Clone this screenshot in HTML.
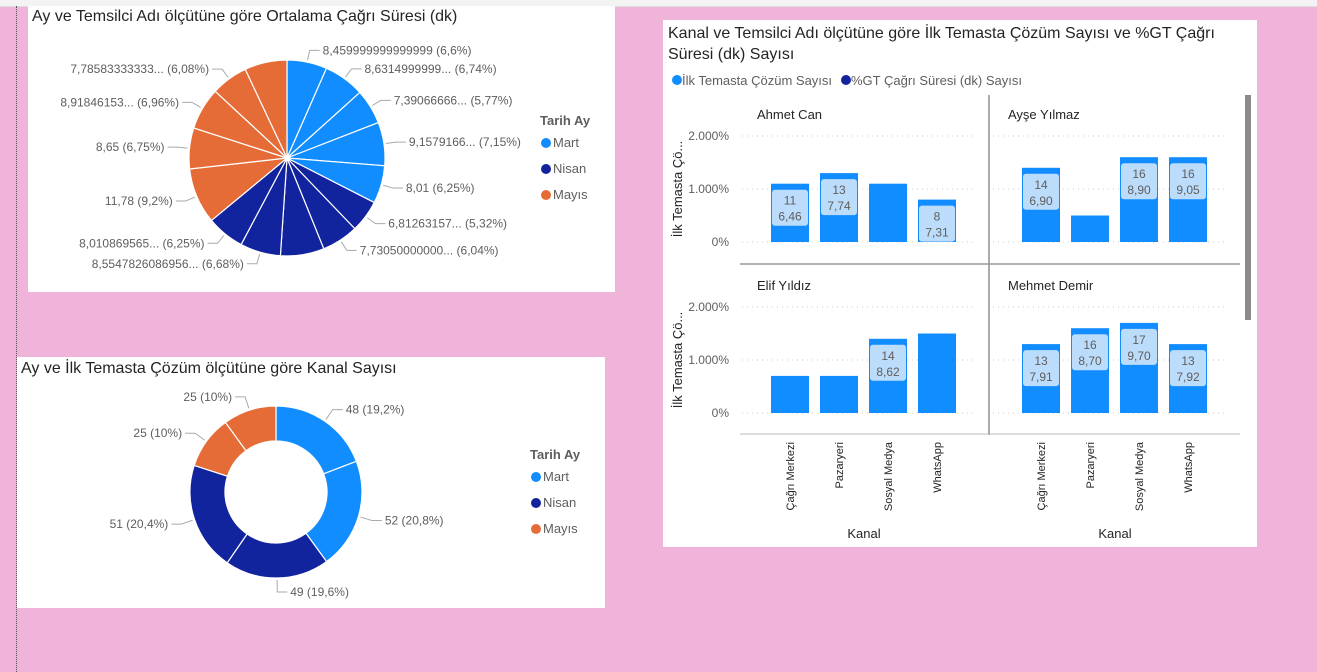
<!DOCTYPE html>
<html><head><meta charset="utf-8">
<style>
body{margin:0;width:1317px;height:672px;background:#f0b3da;position:relative;overflow:hidden;font-family:"Liberation Sans",sans-serif;}
.card{position:absolute;background:#fff;}
.t{position:absolute;white-space:nowrap;}
svg text{font-family:"Liberation Sans",sans-serif;}
</style></head><body>
<div style="position:absolute;left:0;top:0;width:1317px;height:6px;background:#f3f3f3;border-bottom:1px solid #ddd"></div>
<div style="position:absolute;left:16px;top:6px;height:666px;border-left:1px dotted #555"></div>

<div class="card" style="left:28px;top:6px;width:587px;height:286px">
  <div class="t" style="left:4px;top:2px;font-size:16px;color:#252423">Ay ve Temsilci Adı ölçütüne göre Ortalama Çağrı Süresi (dk)</div>
</div>
<div class="card" style="left:17px;top:357px;width:588px;height:251px">
  <div class="t" style="left:4px;top:3px;font-size:16px;color:#252423">Ay ve İlk Temasta Çözüm ölçütüne göre Kanal Sayısı</div>
</div>
<div class="card" style="left:663px;top:20px;width:594px;height:527px">
  <div class="t" style="left:5px;top:3px;font-size:16px;line-height:21px;color:#252423">Kanal ve Temsilci Adı ölçütüne göre İlk Temasta Çözüm Sayısı ve %GT Çağrı<br>Süresi (dk) Sayısı</div>
</div>

<svg id="s" width="1317" height="672" style="position:absolute;left:0;top:0"></svg>

<script>
// ---------- Pie 1 data ----------
const pieVals=[6.6,6.74,5.77,7.15,6.25,5.32,6.04,7.2,6.68,6.25,9.2,6.75,6.96,6.08,7.0];
const pieMonth=[0,0,0,0,0,1,1,1,1,1,2,2,2,2,2];
const pieLabels=["8,459999999999999 (6,6%)","8,6314999999... (6,74%)","7,39066666... (5,77%)","9,1579166... (7,15%)","8,01 (6,25%)","6,81263157... (5,32%)","7,73050000000... (6,04%)","","8,5547826086956... (6,68%)","8,010869565... (6,25%)","11,78 (9,2%)","8,65 (6,75%)","8,91846153... (6,96%)","7,78583333333... (6,08%)",""];
// ---------- Donut data ----------
const donutVals=[48,52,49,51,25,25];
const donutMonth=[0,0,1,1,2,2];
const donutLabels=["48 (19,2%)","52 (20,8%)","49 (19,6%)","51 (20,4%)","25 (10%)","25 (10%)"];
const months=["Mart","Nisan","Mayıs"];
// ---------- Bar data ----------
const channels=["Çağrı Merkezi","Pazaryeri","Sosyal Medya","WhatsApp"];
const reps=["Ahmet Can","Ayşe Yılmaz","Elif Yıldız","Mehmet Demir"];
const barVals=[[1100,1300,1100,800],[1400,500,1600,1600],[700,700,1400,1500],[1300,1600,1700,1300]];
const countLbl=[["11","13","","8"],["14","","16","16"],["","","14",""],["13","16","17","13"]];
const gtLbl=[["6,46","7,74","","7,31"],["6,90","","8,90","9,05"],["","","8,62",""],["7,91","8,70","9,70","7,92"]];
const yTicks=[0,1000,2000];
const yTickLbl=["0%","1.000%","2.000%"];

const colors=["#118dff","#12239e","#e66c37"];
const svg=document.getElementById('s');
const NS="http://www.w3.org/2000/svg";
function mk(tag,attrs,parent){const e=document.createElementNS(NS,tag);for(const k in attrs)e.setAttribute(k,attrs[k]);(parent||svg).appendChild(e);return e;}
function txt(x,y,s,attrs){const e=mk('text',Object.assign({x:x,y:y,'font-size':12,fill:'#605e5c'},attrs||{}));e.textContent=s;return e;}

function legend(x,y,name){
  const t=txt(x,y,"Tarih Ay",{'font-size':13,'font-weight':'bold',fill:'#605e5c'});
  
  
  months.forEach((m,i)=>{
    const c=mk('circle',{cx:x+6,cy:y+22+i*26-4,r:5,fill:colors[i]});
    
    
    const l=txt(x+13,y+22+i*26,m,{'font-size':13});
    
    
  });
}

function ring(cx,cy,r,ri,vals,cols,labels,name,lblR){
  const tot=vals.reduce((a,b)=>a+b,0);let a0=0;
  vals.forEach((v,i)=>{
    const a1=a0+v/tot*2*Math.PI;
    const p=(a,rr)=>[cx+rr*Math.sin(a),cy-rr*Math.cos(a)];
    const [x0,y0]=p(a0,r),[x1,y1]=p(a1,r);const lg=(a1-a0)>Math.PI?1:0;
    let d;
    if(ri>0){const [x2,y2]=p(a1,ri),[x3,y3]=p(a0,ri);
      d=`M${x0},${y0}A${r},${r} 0 ${lg} 1 ${x1},${y1}L${x2},${y2}A${ri},${ri} 0 ${lg} 0 ${x3},${y3}Z`;}
    else d=`M${cx},${cy}L${x0},${y0}A${r},${r} 0 ${lg} 1 ${x1},${y1}Z`;
    const s=mk('path',{d:d,fill:colors[cols[i]],stroke:'#fff','stroke-width':1.2});
    
    
    if(labels[i]){
      const am=(a0+a1)/2;const [lx0,ly0]=p(am,r+2),[lx1,ly1]=p(am,r+lblR);
      const right=Math.sin(am)>=0;const lx2=lx1+(right?10:-10);
      mk('polyline',{points:`${lx0},${ly0} ${lx1},${ly1} ${lx2},${ly1}`,fill:'none',stroke:'#aaa','stroke-width':1});
      const t=txt(lx2+(right?3:-3),ly1+4,labels[i],{'text-anchor':right?'start':'end'});
      
      
    }
    a0=a1;
  });
}
ring(287,158,98,0,pieVals,pieMonth,pieLabels,'pie',12);
legend(540,125,'pie');
ring(276,492,86,51,donutVals,donutMonth,donutLabels,'donut',14);
legend(530,459,'donut');

// ---------- Bar chart ----------
// legend
[[672,"İlk Temasta Çözüm Sayısı",0],[841,"%GT Çağrı Süresi (dk) Sayısı",1]].forEach((e,i)=>{
  const c=mk('circle',{cx:e[0]+5,cy:80,r:5,fill:colors[e[2]]});
  
  
  const t=txt(e[0]+10,85,e[1],{'font-size':13});
  
  
});
const panelX=[771,1022],panelBase=[242,413],pxPer=106/2000,step=49,bw=38;
const yS=(v,row)=>panelBase[row]-v*pxPer;
reps.forEach((rep,ri)=>{
  const col=ri%2,row=Math.floor(ri/2);
  const t=txt(panelX[col]-14,panelBase[row]-123,rep,{'font-size':13,fill:'#252423'});
  
  
  yTicks.forEach((v,k)=>{
    mk('line',{x1:panelX[col]-29,x2:panelX[col]+205,y1:yS(v,row),y2:yS(v,row),stroke:'#ccc','stroke-dasharray':'1,4'});
    if(col==0){const tl=txt(729,yS(v,row)+4,yTickLbl[k],{'text-anchor':'end'});
      
      }
  });
  if(col==0){const yt=txt(0,0,"İlk Temasta Çö...",{'font-size':13,transform:`translate(682,${yS(1000,row)}) rotate(-90)`,'text-anchor':'middle',fill:'#252423'});
    
    }
  barVals[ri].forEach((v,ci)=>{
    const x=panelX[col]+ci*step,y=yS(v,row);
    const b=mk('rect',{x:x,y:y,width:bw,height:panelBase[row]-y,fill:colors[0]});
    
    
    if(countLbl[ri][ci]){
      const bt=Math.min(y+6,panelBase[row]-34);
      const bx=mk('rect',{x:x+1,y:bt,width:bw-2,height:36,rx:3,fill:'#bcdcfb'});
      
      
      const c1=txt(x+bw/2,bt+15,countLbl[ri][ci],{'text-anchor':'middle'});
      
      
      const c2=txt(x+bw/2,bt+31,gtLbl[ri][ci],{'text-anchor':'middle'});
      
      
    }
  });
});
mk('line',{x1:989,x2:989,y1:95,y2:435,stroke:'#555','stroke-width':1});
mk('line',{x1:740,x2:1240,y1:264,y2:264,stroke:'#999','stroke-width':1.5});
mk('line',{x1:740,x2:1240,y1:434,y2:434,stroke:'#bbb','stroke-width':1});
const sb=mk('rect',{x:1245,y:95,width:6,height:225,fill:'#8a8a8a'});


[0,1].forEach(col=>{
  channels.forEach((ch,ci)=>{
    const cx=panelX[col]+ci*step+bw/2;
    const t=txt(0,0,ch,{'font-size':11,fill:'#252423','text-anchor':'end',transform:`translate(${cx+4},${442}) rotate(-90)`});
    
    
  });
  const k=txt(col?1115:864,538,"Kanal",{'font-size':13,fill:'#252423','text-anchor':'middle'});
  
  
});
</script>
</body></html>
